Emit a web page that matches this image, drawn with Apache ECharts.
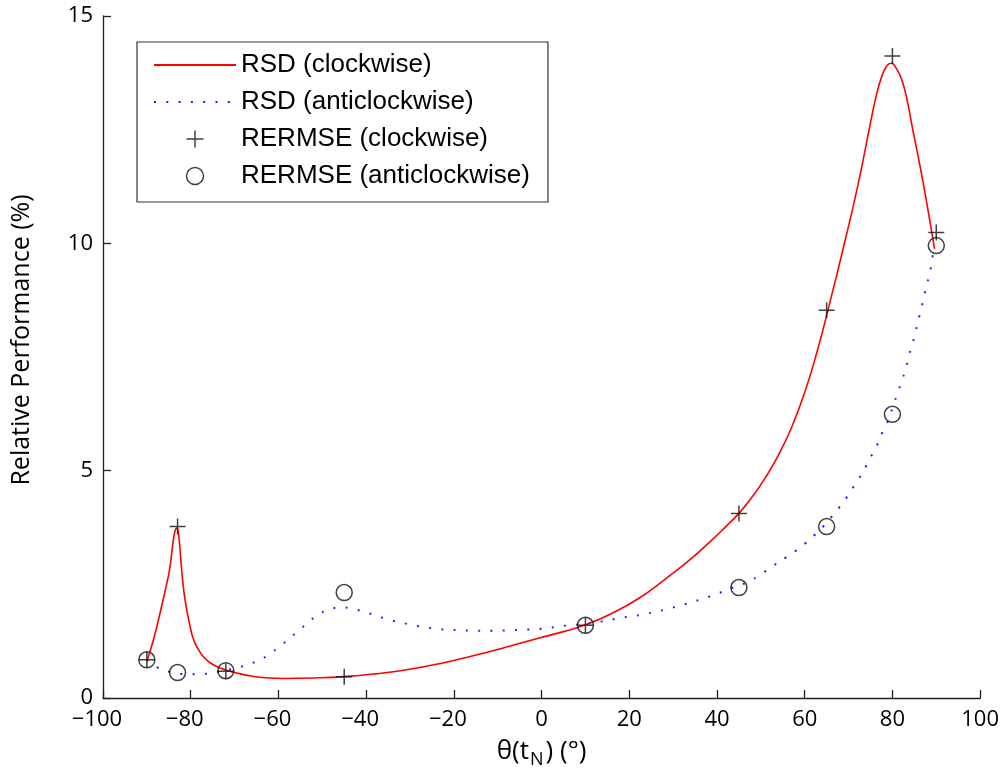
<!DOCTYPE html>
<html>
<head>
<meta charset="utf-8">
<title>Relative Performance</title>
<script src="https://cdn.jsdelivr.net/npm/echarts@6/dist/echarts.min.js"></script>
<style>
  html, body { margin: 0; padding: 0; background: #fff; }
  #chart { width: 1002px; height: 778px; }
</style>
</head>
<body>
<div id="chart"></div>
<script>
// Angles (deg) at which RERMSE was evaluated
const thetaMarks = [-90, -83, -72, -45, 10, 45, 65, 80, 90];
const rermseCw  = [0.84, 3.77, 0.59, 0.47, 1.6, 4.06, 8.53, 14.12, 10.24];
const rermseAcw = [0.84, 0.56, 0.60, 2.32, 1.6, 2.43, 3.77, 6.24, 9.95];

// RSD curve, clockwise rotation
const thetaCw = [-90, -89.3, -88.5, -87.5, -86.3, -85.5, -84.9, -84.4, -84, -83.6, -83.2, -82.9, -82.6, -82.3, -82,
  -81.5, -80.9, -80.2, -79.4, -78.3, -77.2, -75.5, -73.3, -70, -66, -62, -58.9, -52, -45, -38, -30.8, -23, -15.6,
  -8, -0.5, 5, 10, 16, 22.3, 28, 33.7, 39, 42, 45, 48, 51, 54, 57, 60, 63, 66, 69, 72, 75, 76.2, 77.5, 78.7,
  79.7, 81, 82.3, 83.5, 84.6, 85.8, 86.9, 88.2, 89.6];
const rsdCw = [0.82, 1.02, 1.28, 1.66, 2.16, 2.5, 2.78, 3.13, 3.45, 3.66, 3.74, 3.68, 3.45, 3.1, 2.75,
  2.3, 1.94, 1.6, 1.3, 1.07, 0.92, 0.77, 0.66, 0.56, 0.48, 0.44, 0.43, 0.44, 0.47, 0.53, 0.62, 0.76, 0.93,
  1.12, 1.32, 1.46, 1.61, 1.86, 2.2, 2.6, 3.03, 3.49, 3.77, 4.06, 4.42, 4.84, 5.34, 5.95, 6.72, 7.68, 8.8, 9.98, 11.22, 12.65, 13.2, 13.65, 13.9,
  13.96, 13.83, 13.55, 13.08, 12.52, 11.94, 11.39, 10.68, 9.88];

// RSD curve, anticlockwise rotation
const thetaAcw = [-90, -87.8, -85, -82.5, -79.8, -77, -74.2, -71.5, -68.8, -66.2, -63.6, -61.4, -59.2, -57, -54.9, -52.9,
  -50.6, -48.1, -45.4, -42.6, -40, -37.3, -34.8, -32, -29.3, -26.7, -23.9, -21.1, -18.4, -15.7, -10.2, -7.5, -4.6, -2,
  0.9, 3.7, 6.4, 10, 12.1, 14.7, 17.4, 20, 22.7, 25.3, 28, 30.7, 33.3, 36, 38.6, 41.3, 43.7, 47, 50, 53, 55.7, 58,
  60.1, 62.2, 64.2, 66, 67.7, 69.4, 70.9, 72.4, 73.8, 75.1, 76.4, 77.5, 78.7, 79.6, 80.5, 81.4, 82.3, 83.1, 83.8,
  84.6, 85.3, 85.9, 86.6, 87.2, 87.8, 88.5, 89, 89.5, 90];
const rsdAcw = [0.84, 0.68, 0.58, 0.53, 0.52, 0.53, 0.57, 0.62, 0.68, 0.76, 0.87, 1.01, 1.17, 1.35, 1.52, 1.69,
  1.85, 1.96, 1.99, 1.95, 1.88, 1.8, 1.72, 1.66, 1.6, 1.56, 1.52, 1.5, 1.49, 1.48, 1.48, 1.49, 1.5, 1.51,
  1.53, 1.57, 1.6, 1.63, 1.66, 1.7, 1.75, 1.79, 1.83, 1.88, 1.94, 2.01, 2.08, 2.16, 2.24, 2.34, 2.43, 2.55, 2.72, 2.92, 3.09, 3.24,
  3.4, 3.58, 3.77, 3.97, 4.17, 4.39, 4.61, 4.83, 5.07, 5.31, 5.54, 5.8, 6.03, 6.26, 6.52, 6.77, 7.02, 7.27, 7.54,
  7.8, 8.06, 8.31, 8.57, 8.83, 9.08, 9.34, 9.61, 9.89, 9.95];

const seriesNames = ['RSD (clockwise)', 'RSD (anticlockwise)', 'RERMSE (clockwise)', 'RERMSE (anticlockwise)'];

const pairs = (xs, ys) => xs.map((x, i) => [x, ys[i]]);
const PLUS = 'path://M0,8 L16,8 M8,0 L8,16';
const tickFont = '"Open Sans", "Noto Sans", sans-serif';
const noDot = { color: 'rgba(0,0,0,0)', borderWidth: 0, borderColor: 'rgba(0,0,0,0)' };

const chart = echarts.init(document.getElementById('chart'), null, { renderer: 'canvas' });

chart.setOption({
  animation: false,
  backgroundColor: '#ffffff',
  grid: { left: 103, right: 21, top: 16, bottom: 80, containLabel: false },
  legend: {
    left: 137, top: 42,
    orient: 'vertical',
    data: [
      { name: seriesNames[0], itemStyle: noDot },
      { name: seriesNames[1], itemStyle: noDot },
      { name: seriesNames[2] },
      { name: seriesNames[3] }
    ],
    selectedMode: false,
    itemWidth: 82, itemHeight: 17, itemGap: 11,
    padding: [10, 18, 13, 16],
    borderColor: '#333', borderWidth: 1.2,
    backgroundColor: '#fff',
    itemStyle: { borderWidth: 1.5 },
    textStyle: { fontFamily: '"Liberation Sans", Arial, sans-serif', fontSize: 26, lineHeight: 26, color: '#000' }
  },
  xAxis: {
    type: 'value', min: -100, max: 100, interval: 20,
    name: '{a|θ(t}{sub|N}{a|) (°)}',
    nameLocation: 'middle', nameGap: 36,
    nameTextStyle: {
      rich: {
        a: { fontFamily: tickFont, fontSize: 26, lineHeight: 30, verticalAlign: 'top', color: '#000' },
        sub: { fontFamily: tickFont, fontSize: 18, lineHeight: 20, padding: [15, 2, 0, 1], verticalAlign: 'bottom', color: '#000' }
      }
    },
    axisLine: { show: true, onZero: false, lineStyle: { color: '#222', width: 1.3 } },
    axisTick: { show: true, inside: true, length: 8, lineStyle: { color: '#222', width: 1.3 } },
    splitLine: { show: false },
    axisLabel: {
      margin: 11, fontFamily: tickFont, fontSize: 22, color: '#000',
      formatter: v => v < 0 ? '{a|\u2212' + Math.abs(v) + '}{p| }' : String(v),
      rich: { a: { fontFamily: tickFont, fontSize: 22, color: '#000' }, p: { width: 12, fontSize: 22 } }
    }
  },
  yAxis: {
    type: 'value', min: 0, max: 15, interval: 5,
    axisLine: { show: true, onZero: false, lineStyle: { color: '#222', width: 1.3 } },
    axisTick: { show: true, inside: true, length: 8, lineStyle: { color: '#222', width: 1.3 } },
    splitLine: { show: false },
    axisLabel: { margin: 10, fontFamily: tickFont, fontSize: 22, color: '#000' }
  },
  graphic: [{
    type: 'text',
    x: 22, y: 340,
    rotation: Math.PI / 2,
    style: {
      text: 'Relative Performance (%)',
      font: '25px "Open Sans", "Noto Sans", sans-serif',
      fill: '#000',
      align: 'center', verticalAlign: 'middle'
    }
  }],
  series: [
    {
      name: seriesNames[0], type: 'line', data: pairs(thetaCw, rsdCw),
      smooth: 0.5, symbol: 'none', showSymbol: false, z: 2,
      itemStyle: { color: '#ff0000' },
      lineStyle: { color: '#ff0000', width: 1.6 }
    },
    {
      name: seriesNames[1], type: 'line', data: pairs(thetaAcw, rsdAcw),
      smooth: 0.5, symbol: 'none', showSymbol: false, z: 2,
      itemStyle: { color: '#2020ff' },
      lineStyle: { color: '#2020ff', width: 2, type: [2, 10.3], cap: 'butt' }
    },
    {
      name: seriesNames[2], type: 'scatter', data: pairs(thetaMarks, rermseCw),
      symbol: PLUS, symbolSize: 16, symbolKeepAspect: true, z: 3,
      itemStyle: { color: 'rgba(0,0,0,0)', borderColor: '#111', borderWidth: 1.5 }
    },
    {
      name: seriesNames[3], type: 'scatter', data: pairs(thetaMarks, rermseAcw),
      symbol: 'circle', symbolSize: 16, symbolKeepAspect: true, z: 3,
      itemStyle: { color: 'rgba(0,0,0,0)', borderColor: '#111', borderWidth: 1.5 }
    }
  ]
});
</script>
</body>
</html>
